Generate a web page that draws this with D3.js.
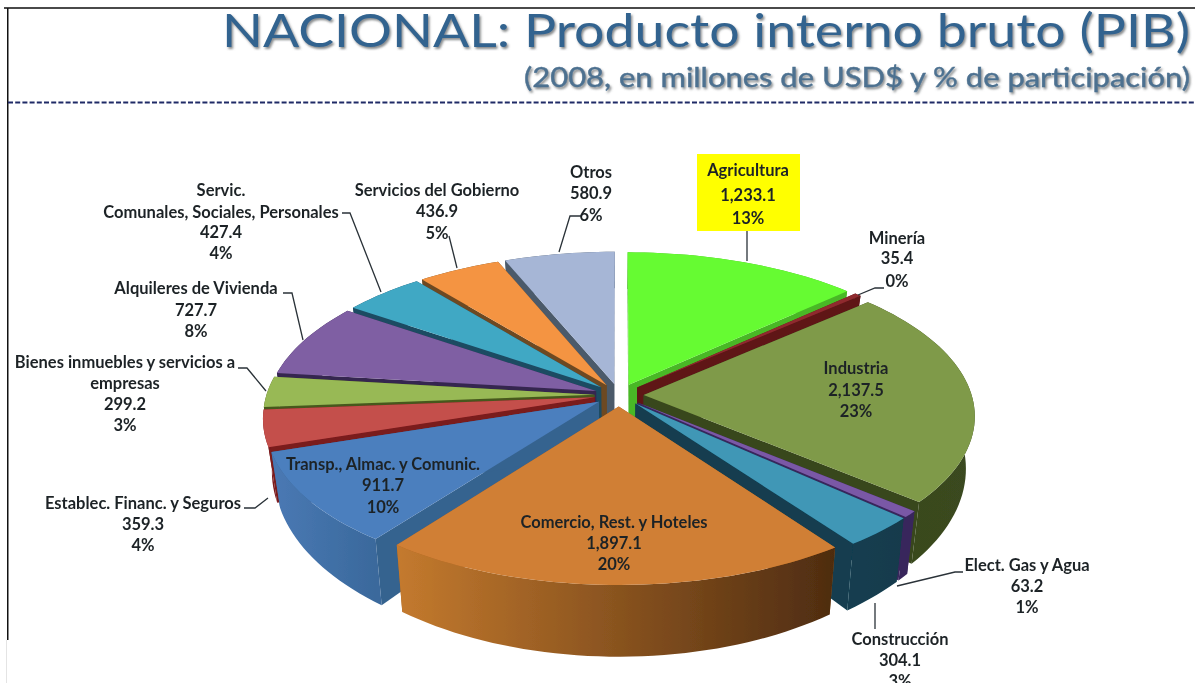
<!DOCTYPE html>
<html><head><meta charset="utf-8">
<script src="https://cdnjs.cloudflare.com/ajax/libs/d3/7.8.5/d3.min.js"></script>
<style>html,body{margin:0;padding:0;background:#fff;overflow:hidden}svg{display:block}</style>
</head><body><svg id="c" width="1195" height="683"></svg>
<script>
// ---- data ----
const categories = ["Agricultura","Minería","Industria","Elect. Gas y Agua","Construcción","Comercio, Rest. y Hoteles","Transp., Almac. y Comunic.","Establec. Financ. y Seguros","Bienes inmuebles y servicios a empresas","Alquileres de Vivienda","Servic. Comunales, Sociales, Personales","Servicios del Gobierno","Otros"];
const values = [1233.1,35.4,2137.5,63.2,304.1,1897.1,911.7,359.3,299.2,727.7,427.4,436.9,580.9];
const valueLabels = ["1,233.1","35.4","2,137.5","63.2","304.1","1,897.1","911.7","359.3","299.2","727.7","427.4","436.9","580.9"];
const percentLabels = ["13%","0%","23%","1%","3%","20%","10%","4%","3%","8%","4%","5%","6%"];
const titleText = "NACIONAL: Producto interno bruto (PIB)";
const subtitleText = "(2008, en millones de USD$ y % de participación)";

// ---- styles ----
const topColors = ["#66fb33","#8f2a2e","#7f9a48","#7a58a6","#3f97b6","#d07f35","#4c7fbe","#c44f4c","#98b955","#7f5fa3","#41a8c4","#f49442","#a6b6d6"];
const wallColors = ["#49b826","#5e1518","#39471d","#39265c","#123e50","#a8601f","#36638f","#7a1a1c","#47591f","#36264f","#1c4b62","#6d4a22","#4b5a6b"];
const outerLeft = ["#49b826","#5e1518","#39471d","#39265c","#123e50","#c47a2e","#4a79b4","#7a1a1c","#47591f","#36264f","#1c4b62","#6d4a22","#4b5a6b"];
const outerRight = ["#49b826","#5e1518","#3a4a20","#39265c","#123a4c","#4e2c10","#3a699c","#7a1a1c","#47591f","#36264f","#1c4b62","#6d4a22","#4b5a6b"];
const cx = 619, cy = 395, rx = 328, ry = 152, persp = 0.13, explode = 0.075;
const labelFont = "Lato, 'Noto Sans', sans-serif";

// label layout: centre x, y of each line's middle
const labelLines = [
 [["Agricultura",748,170],[valueLabels[0],748,195],[percentLabels[0],748,218]],
 [["Minería",897,238],[valueLabels[1],897,258],[percentLabels[1],897,281]],
 [["Industria",856,368],[valueLabels[2],856,390],[percentLabels[2],856,411]],
 [["Elect. Gas y Agua",1027,565],[valueLabels[3],1027,586],[percentLabels[3],1027,607]],
 [["Construcción",900,639],[valueLabels[4],900,660],[percentLabels[4],900,681]],
 [["Comercio, Rest. y Hoteles",614,522],[valueLabels[5],614,543],[percentLabels[5],614,564]],
 [["Transp., Almac. y Comunic.",383,464],[valueLabels[6],383,485],[percentLabels[6],383,507]],
 [["Establec. Financ. y Seguros",143,503],[valueLabels[7],143,524],[percentLabels[7],143,545]],
 [["Bienes inmuebles y servicios a",125,362],["empresas",125,383],[valueLabels[8],125,404],[percentLabels[8],125,425]],
 [["Alquileres de Vivienda",196,288],[valueLabels[9],196,310],[percentLabels[9],196,331]],
 [["Servic.",221,190],["Comunales, Sociales, Personales",221,212],[valueLabels[10],221,232],[percentLabels[10],221,253]],
 [["Servicios del Gobierno",437,190],[valueLabels[11],437,211],[percentLabels[11],437,233]],
 [["Otros",591,172],[valueLabels[12],591,193],[percentLabels[12],591,215]]
];
const leaders = [
 [[747,231],[747,261]],
 [[884,288],[875,288],[858,295]],
 [[963,572],[955,572],[897,586]],
 [[875,603],[875,629]],
 [[244,508],[255,508],[268,498]],
 [[238,368],[247,368],[266,391]],
 [[283,293],[292,293],[303,340]],
 [[342,213],[350,213],[381,292]],
 [[449,236],[457,268]],
 [[582,216],[570,216],[559,252]]
];

// ---- chart ----
const svg = d3.select("#c");
const defs = svg.append("defs");
defs.append("filter").attr("id","soft").attr("x","-5%").attr("y","-5%").attr("width","110%").attr("height","110%")
  .append("feGaussianBlur").attr("stdDeviation",0.7);
defs.append("filter").attr("id","softText").attr("x","-5%").attr("y","-20%").attr("width","110%").attr("height","140%")
  .append("feGaussianBlur").attr("stdDeviation",0.35);
const ts = defs.append("filter").attr("id","shadow").attr("x","-5%").attr("y","-20%").attr("width","110%").attr("height","150%");
ts.append("feDropShadow").attr("dx",1.5).attr("dy",2).attr("stdDeviation",1.2).attr("flood-color","#55585c").attr("flood-opacity",0.7);

const xS = d3.scaleLinear().domain([-1,1]).range([cx-rx,cx+rx]);
const yS = d3.scaleLinear().domain([-1,1]).range([cy+ry,cy-ry]);
const scaleAt = z => 1/(1+persp*z);
const top3 = (X,Z) => { const s=scaleAt(Z); return [xS(X*s), yS(Z*s)]; };
const bot3 = (X,Z) => { const s=scaleAt(Z), p=top3(X,Z); return [cx+(p[0]-cx)*0.975, p[1]+50*Math.pow(s,2.4)]; };
const line = d3.line();

const slices = d3.pie().sort(null).value(d=>d)(values).map((d,i)=>{
  const mid=(d.startAngle+d.endAngle)/2;
  return {i,a0:d.startAngle,a1:d.endAngle,ox:explode*Math.sin(mid),oz:explode*Math.cos(mid)};
}).sort((a,b)=>b.oz-a.oz);

const pieG = svg.append("g").attr("filter","url(#soft)");
slices.forEach(s=>{
  const pt=a=>[s.ox+Math.sin(a),s.oz+Math.cos(a)];
  const n=Math.max(2,Math.ceil((s.a1-s.a0)/0.03));
  const arc=d3.range(n+1).map(k=>pt(s.a0+(s.a1-s.a0)*k/n));
  const ap=[s.ox,s.oz];
  const arcTop=arc.map(q=>top3(q[0],q[1]));
  const arcBot=arc.map(q=>bot3(q[0],q[1]));
  const g=pieG.append("g");
  const wall=(q)=>g.append("path").attr("d",line([top3(ap[0],ap[1]),top3(q[0],q[1]),bot3(q[0],q[1]),bot3(ap[0],ap[1])])+"Z").attr("fill",wallColors[s.i]);
  wall(arc[0]); wall(arc[n]);
  const xs=arcTop.map(p=>p[0]);
  const gid="o"+s.i;
  const lg=defs.append("linearGradient").attr("id",gid).attr("gradientUnits","userSpaceOnUse")
    .attr("x1",d3.min(xs)).attr("x2",d3.max(xs)).attr("y1",0).attr("y2",0);
  lg.append("stop").attr("offset",0).attr("stop-color",outerLeft[s.i]);
  lg.append("stop").attr("offset",1).attr("stop-color",outerRight[s.i]);
  g.append("path").attr("d",line(arcTop.concat(arcBot.slice().reverse()))+"Z").attr("fill","url(#"+gid+")");
  g.append("path").attr("d",line([top3(ap[0],ap[1])].concat(arcTop))+"Z").attr("fill",topColors[s.i]);
});

// frame
svg.append("rect").attr("x",4).attr("y",7).attr("width",1191).attr("height",2).attr("fill","#4a4a4a");
svg.append("rect").attr("x",7).attr("y",8).attr("width",1.5).attr("height",632).attr("fill","#111");
svg.append("rect").attr("x",6).attr("y",640).attr("width",1).attr("height",43).attr("fill","#e4e4e4");
svg.append("line").attr("x1",8).attr("x2",1195).attr("y1",102.5).attr("y2",102.5)
  .attr("stroke","#1f2a66").attr("stroke-width",2).attr("stroke-dasharray","5 2.2");

// title
svg.append("text").text(titleText).attr("x",222).attr("y",47).attr("textLength",968).attr("lengthAdjust","spacingAndGlyphs")
  .attr("font-family",labelFont).attr("font-size",46).attr("fill","#33648f").attr("filter","url(#shadow)");
svg.append("text").text(subtitleText).attr("x",524).attr("y",87).attr("textLength",666).attr("lengthAdjust","spacingAndGlyphs")
  .attr("font-family",labelFont).attr("font-size",27).attr("fill","#4d7190").attr("stroke","#4d7190").attr("stroke-width",0.4).attr("filter","url(#shadow)");

// highlight box
svg.append("rect").attr("x",697).attr("y",154).attr("width",103).attr("height",77).attr("fill","#ffff00");

// leaders
svg.append("g").selectAll("path").data(leaders).join("path")
  .attr("d",d=>line(d)).attr("fill","none").attr("stroke","#2a3238").attr("stroke-width",1.3);

// labels
const lg = svg.append("g").attr("filter","url(#softText)");
labelLines.forEach(lines=>lines.forEach(l=>{
  lg.append("text").text(l[0]).attr("x",l[1]).attr("y",l[2]).attr("dy","0.35em").attr("text-anchor","middle")
    .attr("font-family",labelFont).attr("font-size",16.5).attr("font-weight",700).attr("fill","#1d2326");
}));
</script></body></html>
